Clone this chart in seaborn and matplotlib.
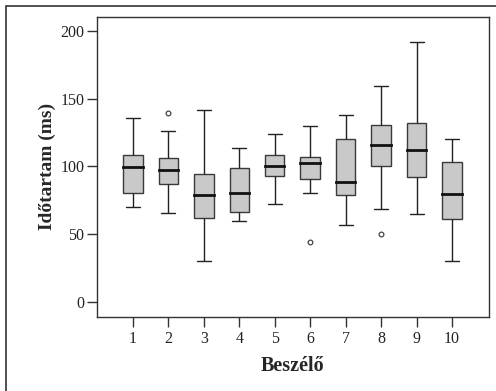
import numpy as np
import pandas as pd
import matplotlib
matplotlib.use("Agg")
import matplotlib.pyplot as plt
import seaborn as sns
from matplotlib.patches import Rectangle

# ---- data (ms) ----
speakers = ["1", "2", "3", "4", "5", "6", "7", "8", "9", "10"]
whisker_low = [70.3, 65.8, 30.3, 59.7, 72.3, 80.4, 56.5, 68.8, 64.9, 30.3]
q1 = [80.2, 87.3, 61.9, 66.3, 93.0, 90.8, 78.7, 100.4, 92.2, 61.4]
median = [99.9, 97.2, 78.9, 80.2, 100.1, 102.4, 88.3, 115.9, 112.0, 79.4]
q3 = [108.7, 106.5, 94.2, 99.1, 108.7, 107.3, 120.1, 130.5, 132.2, 103.6]
whisker_high = [135.6, 126.5, 142.0, 113.9, 123.8, 130.0, 137.9, 159.5, 192.0, 120.1]
outliers = {"2": [139.6], "6": [44.4], "8": [50.1]}

# Build per-speaker samples whose box statistics equal the values above
rows = []
for i, s in enumerate(speakers):
    outs = outliers.get(s, [])
    if outs:
        vals = [whisker_low[i], q1[i], q1[i], median[i], median[i],
                q3[i], q3[i], whisker_high[i]] + outs
    else:
        vals = [whisker_low[i], q1[i], q1[i], median[i], q3[i], q3[i], whisker_high[i]]
    rows += [(s, v) for v in vals]
df = pd.DataFrame(rows, columns=["Beszélő", "ms"])

sns.set_theme(style="ticks")
plt.rcParams["font.family"] = ["Liberation Serif", "DejaVu Serif"]

fig = plt.figure(figsize=(4.96, 3.91), dpi=100)
fig.patch.set_facecolor("white")
ax = fig.add_axes([96.7 / 496, 1 - 316.7 / 391, (489.3 - 96.7) / 496, (316.7 - 16.7) / 391])

sns.boxplot(
    data=df, x="Beszélő", y="ms", order=speakers, ax=ax,
    width=0.55, color="#c9c9c9", saturation=1, linecolor="#3a3a3a",
    linewidth=1.0, whis=1.5, fliersize=3.4, capwidths=0.4,
    medianprops=dict(color="#111111", linewidth=2.0, solid_capstyle="projecting"),
    whiskerprops=dict(color="#222222", linewidth=1.0),
    capprops=dict(color="#222222", linewidth=1.0),
    flierprops=dict(marker="o", markerfacecolor="none", markeredgecolor="#444444",
                    markeredgewidth=0.9),
)

ax.set_xlim(-1.02, 10.05)
ax.set_ylim(-11.1, 210.8)
ax.set_yticks([0, 50, 100, 150, 200])
ax.set_xlabel("Beszélő", fontsize=14.5, fontweight="bold", labelpad=6)
ax.set_ylabel("Időtartam (ms)", fontsize=14, fontweight="bold", labelpad=3)
ax.tick_params(axis="x", direction="out", length=7.5, width=1.0, color="#333333",
               labelsize=11.5, pad=3, bottom=True, labelcolor="#222222")
ax.tick_params(axis="y", direction="out", length=7.5, width=1.0, color="#333333",
               labelsize=11.5, pad=1.5, left=True, labelcolor="#222222")
for sp in ax.spines.values():
    sp.set_visible(True)
    sp.set_color("#333333")
    sp.set_linewidth(1.0)
ax.set_facecolor("white")

# outer frame of the original figure (only left and top edges visible in crop)
fig.patches.append(Rectangle((6 / 496, -0.2), 1.5, 0.2 + (1 - 6 / 391),
                             transform=fig.transFigure, fill=False,
                             edgecolor="#333333", linewidth=1.2))

fig.savefig("out.png", dpi=100)
